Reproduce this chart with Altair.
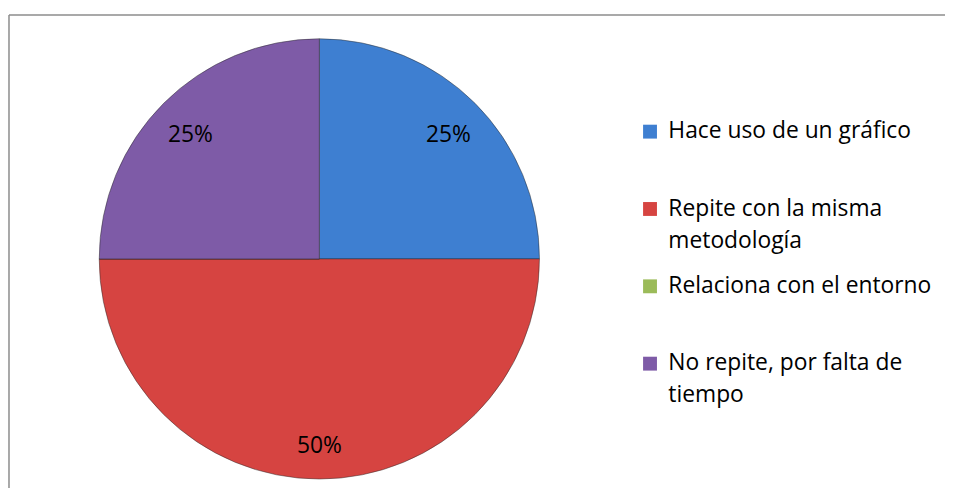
import altair as alt
import pandas as pd

categories = [
    "Hace uso de un gráfico",
    "Repite con la misma metodología",
    "Relaciona con el entorno",
    "No repite, por falta de tiempo",
]
legend_lines = [
    ["Hace uso de un gráfico", " "],
    ["Repite con la misma", "metodología"],
    ["Relaciona con el entorno", " "],
    ["No repite, por falta de", "tiempo"],
]
shares = [0.25, 0.50, 0.0, 0.25]
colors = ["#3E7FD1", "#D64441", "#9BBB59", "#7E5BA7"]

df = pd.DataFrame({"cat": categories, "share": shares, "idx": list(range(len(categories)))})

# build the legend label wrapping expression
parts = []
for name, lines in zip(categories, legend_lines):
    arr = "[" + ", ".join("'" + l + "'" for l in lines) + "]"
    parts.append(f"datum.label == '{name}' ? {arr} : ")
label_expr = "".join(parts) + "datum.label"

W, H = 936, 477
CX, CY, R = 313, 246, 222
FONT = "Open Sans"

# square symbol raised so it sits beside the first text line
raised_square = "M-1,-1.98H1V0.02H-1Z"

base = alt.Chart(df)

arcs = base.mark_arc(
    radius=R, stroke="#2a2a2a", strokeWidth=0.8, strokeOpacity=0.6
).encode(
    x=alt.value(CX),
    y=alt.value(CY),
    theta=alt.Theta("share:Q", stack=True),
    order=alt.Order("idx:Q"),
    color=alt.Color(
        "cat:N",
        scale=alt.Scale(domain=categories, range=colors),
        legend=alt.Legend(
            title=None,
            orient="none",
            legendX=635,
            legendY=113,
            symbolType=raised_square,
            symbolSize=196,
            symbolStrokeWidth=0,
            labelFont=FONT,
            labelFontSize=23,
            labelBaseline="alphabetic",
            labelColor="#000000",
            labelLimit=400,
            labelOffset=7,
            labelExpr=label_expr,
            rowPadding=22,
            padding=0,
        ),
    ),
)

labels = base.transform_filter("datum.share > 0").mark_text(
    radius=184, dy=5, font=FONT, fontSize=23, color="#000000"
).encode(
    x=alt.value(CX),
    y=alt.value(CY),
    theta=alt.Theta("share:Q", stack=True),
    order=alt.Order("idx:Q"),
    text=alt.Text("share:Q", format=".0%"),
)

frame_data = alt.Data(values=[{"k": 1}])
top_rule = alt.Chart(frame_data).mark_rule(color="#8c8c8c", strokeWidth=1.5).encode(
    x=alt.value(0), x2=alt.value(W + 8), y=alt.value(0)
)
left_rule = alt.Chart(frame_data).mark_rule(color="#8c8c8c", strokeWidth=1.5).encode(
    x=alt.value(0), y=alt.value(0), y2=alt.value(H)
)

chart = alt.layer(arcs, labels, top_rule, left_rule).properties(
    width=W,
    height=H,
    autosize=alt.AutoSizeParams(type="none"),
    padding={"left": 1, "top": 5, "right": 8, "bottom": 0},
).configure(
    style={"guide-label": {"lineHeight": 32}},
    view=alt.ViewConfig(strokeWidth=0, stroke="transparent"),
)

chart.save("out.html", embed_options={"renderer": "svg", "actions": False})
